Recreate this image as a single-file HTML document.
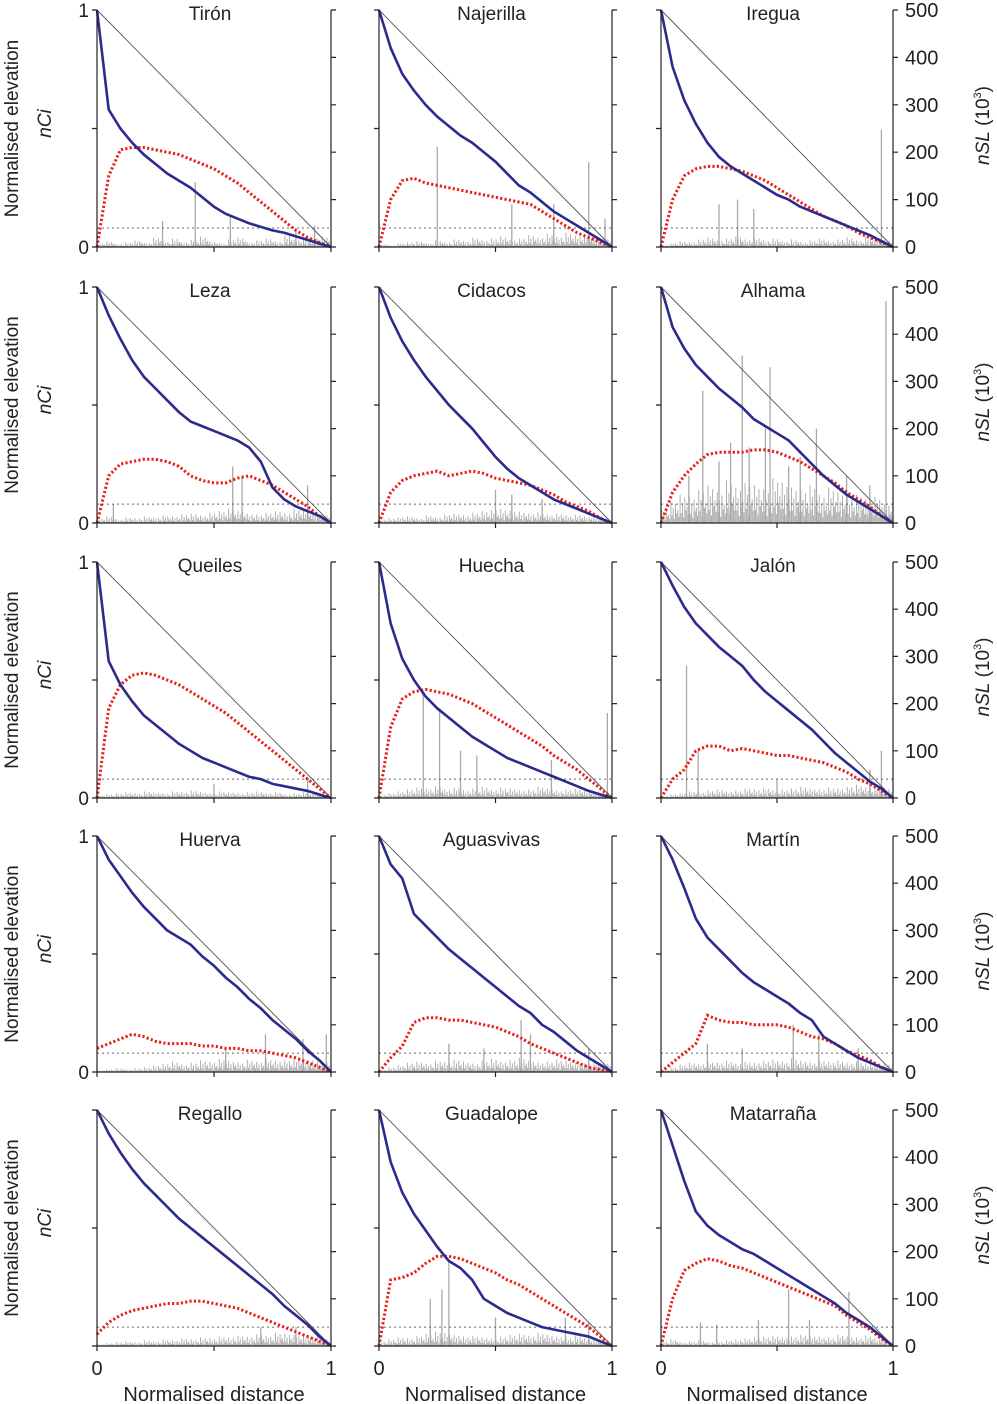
<!DOCTYPE html>
<html><head><meta charset="utf-8"><style>
body{margin:0;background:#fff}
svg{display:block;font-family:"Liberation Sans",Arial,sans-serif}
</style></head><body>
<svg id="chart" width="997" height="1404" viewBox="0 0 997 1404" xmlns="http://www.w3.org/2000/svg"></svg>
<script>
const names = ["Tirón","Najerilla","Iregua","Leza","Cidacos","Alhama","Queiles","Huecha","Jalón","Huerva","Aguasvivas","Martín","Regallo","Guadalope","Matarraña"];
const xGrid = [0,.05,.1,.15,.2,.25,.3,.35,.4,.45,.5,.55,.6,.65,.7,.75,.8,.85,.9,.95,1];
const elevation = [
[1,.58,.5,.44,.39,.35,.31,.28,.25,.21,.17,.14,.12,.10,.085,.07,.06,.045,.03,.015,0],
[1,.84,.73,.66,.6,.55,.51,.47,.44,.40,.36,.31,.26,.23,.19,.15,.12,.09,.06,.03,0],
[1,.76,.62,.52,.44,.38,.34,.31,.28,.25,.22,.2,.17,.15,.13,.11,.09,.07,.05,.025,0],
[1,.88,.78,.69,.62,.57,.52,.47,.43,.41,.39,.37,.35,.32,.26,.15,.1,.07,.05,.03,0],
[1,.87,.77,.69,.62,.56,.5,.45,.4,.34,.28,.23,.19,.16,.13,.1,.08,.06,.04,.02,0],
[1,.83,.74,.67,.62,.57,.53,.49,.44,.41,.38,.35,.3,.25,.2,.16,.12,.09,.06,.03,0],
[1,.58,.48,.41,.35,.31,.27,.23,.2,.17,.15,.13,.11,.09,.08,.06,.05,.04,.03,.015,0],
[1,.74,.59,.5,.43,.38,.34,.3,.26,.23,.2,.17,.15,.13,.11,.09,.07,.05,.03,.015,0],
[1,.9,.81,.74,.69,.64,.6,.56,.5,.45,.41,.37,.33,.29,.24,.19,.15,.11,.07,.04,0],
[1,.9,.83,.76,.7,.65,.6,.57,.54,.49,.45,.4,.36,.31,.27,.22,.18,.14,.09,.05,0],
[1,.88,.82,.67,.62,.57,.52,.48,.44,.4,.36,.32,.28,.25,.2,.17,.13,.09,.06,.03,0],
[1,.9,.78,.65,.57,.52,.47,.42,.38,.35,.32,.29,.25,.22,.15,.12,.09,.06,.04,.02,0],
[1,.9,.82,.75,.69,.64,.59,.54,.5,.46,.42,.38,.34,.3,.26,.22,.17,.13,.09,.04,0],
[1,.78,.65,.56,.49,.42,.36,.33,.28,.2,.17,.14,.12,.1,.08,.07,.06,.05,.04,.02,0],
[1,.85,.7,.57,.51,.47,.44,.41,.39,.36,.33,.3,.27,.24,.21,.18,.14,.11,.08,.04,0]
];
const nCi = [
[0,.30,.41,.42,.42,.41,.40,.39,.37,.35,.33,.30,.27,.23,.19,.15,.11,.07,.04,.02,0],
[0,.20,.28,.29,.27,.26,.25,.24,.23,.22,.21,.2,.19,.18,.15,.12,.09,.06,.04,.02,0],
[0,.2,.3,.33,.34,.34,.33,.32,.3,.28,.25,.22,.19,.16,.13,.11,.09,.06,.04,.02,0],
[0,.2,.25,.26,.27,.27,.26,.24,.2,.18,.17,.17,.19,.2,.18,.16,.13,.1,.07,.03,0],
[0,.13,.18,.2,.21,.22,.2,.21,.22,.21,.19,.18,.17,.16,.14,.12,.09,.07,.05,.02,0],
[0,.13,.2,.25,.29,.3,.3,.3,.31,.31,.3,.28,.26,.23,.2,.17,.13,.1,.07,.03,0],
[0,.38,.48,.52,.53,.52,.5,.48,.45,.42,.39,.36,.32,.28,.24,.2,.16,.12,.08,.04,0],
[0,.3,.42,.45,.46,.45,.44,.42,.4,.37,.34,.31,.28,.25,.22,.18,.15,.12,.08,.04,0],
[0,.08,.12,.2,.22,.22,.2,.21,.2,.19,.18,.18,.17,.16,.15,.13,.11,.08,.06,.03,0],
[.1,.12,.14,.16,.15,.13,.12,.12,.12,.11,.11,.1,.1,.09,.09,.08,.07,.06,.04,.02,0],
[0,.06,.11,.21,.23,.23,.22,.22,.21,.2,.19,.17,.15,.12,.1,.08,.06,.04,.02,.01,0],
[0,.04,.08,.12,.24,.22,.21,.21,.2,.2,.2,.19,.17,.15,.14,.12,.09,.07,.05,.02,0],
[.05,.1,.13,.15,.16,.17,.18,.18,.19,.19,.18,.17,.16,.14,.12,.1,.08,.06,.04,.02,0],
[0,.28,.29,.31,.35,.38,.38,.37,.35,.33,.31,.28,.26,.23,.2,.17,.14,.11,.08,.04,0],
[0,.2,.32,.35,.37,.36,.34,.33,.31,.29,.27,.25,.23,.21,.19,.17,.13,.1,.07,.03,0]
];
const spikeX = [
[.28,.42,.57,.85,.93],
[.25,.57,.75,.9,.97],
[.25,.33,.4,.95],
[.07,.58,.62,.9],
[.5,.57,.7],
[.12,.18,.25,.3,.35,.38,.45,.47,.55,.6,.67,.8,.9,.97],
[.5,.9],
[.19,.26,.35,.42,.74,.98],
[.11,.16,.5,.9,.95],
[.55,.72,.88,.98],
[.3,.45,.61,.65,.9],
[.2,.35,.57,.68,.85],
[.7,.85],
[.22,.27,.3,.5,.8,.9],
[.17,.24,.42,.55,.64,.81]
];
const spikeH = [
[55,137,67,40,45],
[211,90,90,179,60],
[90,100,80,247],
[40,120,100,80],
[70,60,50],
[100,280,130,170,355,160,200,330,120,140,200,100,80,470],
[30,40],
[220,190,100,90,80,180],
[280,100,40,60,100],
[50,80,70,80],
[60,50,110,80,50],
[60,50,100,80,50],
[40,40],
[100,120,180,60,60,50],
[50,45,55,120,55,115]
];
const noise = [
[8,12,6,10,14,9,20,12,18,10,15,22,12,8,16,20,10,14,18,12,25,15,20,18,22],
[6,4,8,10,12,8,14,10,16,12,20,14,18,22,15,18,25,20,28,22,30,24,26,20,18],
[4,8,12,10,16,20,14,18,22,16,20,14,18,12,16,10,14,18,12,16,20,14,22,18,15],
[10,14,8,12,10,14,12,16,14,18,20,16,22,25,30,26,20,18,22,25,20,30,28,22,18],
[8,10,12,14,10,16,12,18,20,16,22,25,28,30,26,24,20,22,18,20,16,18,14,12,10],
[30,45,60,55,70,80,65,90,75,85,80,70,95,85,75,70,80,60,75,65,55,60,50,55,40],
[6,8,10,12,10,14,12,10,14,12,16,12,10,14,12,10,12,14,10,12,8,10,12,10,8],
[8,10,14,18,22,20,25,18,22,16,20,24,18,22,20,16,18,24,20,16,18,20,15,14,12],
[5,8,10,14,12,16,18,14,16,20,18,22,16,18,20,24,20,18,22,20,24,28,22,26,20],
[4,6,8,6,8,10,14,18,22,16,20,25,22,28,24,20,26,22,28,24,26,30,28,25,22],
[6,10,14,20,22,18,24,20,26,22,18,24,28,22,26,30,24,20,22,26,24,20,18,22,20],
[6,10,16,20,18,22,20,24,18,22,20,24,26,22,28,24,20,26,22,24,20,22,18,20,16],
[4,6,8,10,8,12,10,14,12,16,14,18,16,20,18,22,20,25,22,28,26,24,22,20,16],
[10,14,18,16,22,26,30,28,24,20,22,18,16,20,24,26,22,28,24,20,18,22,16,14,12],
[10,14,8,10,12,8,10,12,14,16,18,20,22,18,20,24,22,20,18,24,20,18,22,16,12]
];
const colX = [97,379,661];
const colW = [234,233,232];
const rowY = [10,287,562,836,1110];
const rowH = [237,236,236,236,236];
const nslTicks = [0,100,200,300,400,500];
const dashNSL = 40;
const subShape = [1,.35,.7,.2,.9,.45,.6,.3];

const NS = "http://www.w3.org/2000/svg";
const svg = document.getElementById("chart");
function mk(tag, attrs, parent){
  const e = document.createElementNS(NS, tag);
  for (const k in attrs) e.setAttribute(k, attrs[k]);
  (parent||svg).appendChild(e);
  return e;
}
for (let p = 0; p < 15; p++) {
  const c = p % 3, r = Math.floor(p / 3);
  const x0 = colX[c], w = colW[c], y0 = rowY[r], h = rowH[r];
  const sx = v => x0 + v * w;
  const sy = v => y0 + h - v * h;
  const sn = v => y0 + h - v / 500 * h;
  const g = mk("g", {});
  
  
  const n = noise[p];
  let d = "";
  const m = subShape.length;
  for (let i = 0; i < n.length; i++) {
    for (let k = 0; k < m; k++) {
      const xv = sx((i + (k + 0.5) / m) / n.length);
      d += " M" + xv.toFixed(1) + "," + sn(0) + " V" + sn(n[i] * subShape[k]).toFixed(1);
    }
  }
  const na = mk("path", {d: d, fill: "none", stroke: "#b0b0b0", "stroke-width": 1}, g);
  
  
  for (let i = 0; i < spikeX[p].length; i++) {
    const s = mk("line", {x1: sx(spikeX[p][i]), x2: sx(spikeX[p][i]), y1: sn(0), y2: sn(spikeH[p][i]), stroke: "#a8a8a8", "stroke-width": 1.3}, g);
    
    
  }
  const dl = mk("line", {x1: sx(0), x2: sx(1), y1: sn(dashNSL), y2: sn(dashNSL), stroke: "#666", "stroke-width": 1, "stroke-dasharray": "2,3"}, g);
  
  
  const dg = mk("line", {x1: sx(0), y1: sy(1), x2: sx(1), y2: sy(0), stroke: "#555", "stroke-width": 0.9}, g);
  
  
  const rp = mk("polyline", {points: xGrid.map((x, i) => sx(x) + "," + sy(nCi[p][i])).join(" "), fill: "none", stroke: "#e8201a", "stroke-width": 3, "stroke-dasharray": "2.2,2.2"}, g);
  
  
  const bp = mk("polyline", {points: xGrid.map((x, i) => sx(x) + "," + sy(elevation[p][i])).join(" "), fill: "none", stroke: "#2b2b8e", "stroke-width": 2.6, "stroke-linejoin": "round"}, g);
  
  
  let ax = "M" + x0 + "," + y0 + " V" + (y0 + h) + " H" + (x0 + w) + " M" + (x0 + w) + "," + y0 + " V" + (y0 + h);
  [0, .5, 1].forEach(v => { ax += " M" + (x0 - 5) + "," + sy(v) + " H" + x0; ax += " M" + sx(v) + "," + (y0 + h) + " V" + (y0 + h + 5); });
  nslTicks.forEach(v => { ax += " M" + (x0 + w) + "," + sn(v) + " H" + (x0 + w + 5); });
  const axp = mk("path", {d: ax, fill: "none", stroke: "#222", "stroke-width": 1.2}, g);
  
  
  const t = mk("text", {x: x0 + w / 2 - 4, y: y0 + 10, "text-anchor": "middle", "font-size": 19, fill: "#222"}, g);
  t.textContent = names[p];
  
  
  if (c === 0 && r < 4) {
    [[1, "1"], [0, "0"]].forEach(([v, s]) => {
      const l = mk("text", {x: x0 - 8, y: sy(v) + 7, "text-anchor": "end", "font-size": 19, fill: "#222"}, g);
      l.textContent = s;
      
      
    });
  }
  if (c === 2) {
    nslTicks.forEach(v => {
      const l = mk("text", {x: x0 + w + 12, y: sn(v) + 7, "font-size": 20, fill: "#222"}, g);
      l.textContent = v;
      
      
    });
  }
  if (r === 4) {
    [[0, "0"], [1, "1"]].forEach(([v, s]) => {
      const l = mk("text", {x: sx(v), y: y0 + h + 29, "text-anchor": "middle", "font-size": 20, fill: "#222"}, g);
      l.textContent = s;
      
      
    });
    const xl = mk("text", {x: x0 + w / 2, y: y0 + h + 55, "text-anchor": "middle", "font-size": 20, fill: "#222"}, g);
    xl.textContent = "Normalised distance";
    
    
  }
}
for (let r = 0; r < 5; r++) {
  const cy = rowY[r] + rowH[r] / 2;
  const a = mk("text", {transform: "translate(18," + cy + ") rotate(-90)", "text-anchor": "middle", "font-size": 19, fill: "#222"});
  a.textContent = "Normalised elevation";
  
  
  const b = mk("text", {transform: "translate(51," + (cy - 5) + ") rotate(-90)", "text-anchor": "middle", "font-size": 19, "font-style": "italic", fill: "#222"});
  b.textContent = "nCi";
  
  
  const c = mk("text", {transform: "translate(989," + (cy - 3) + ") rotate(-90)", "text-anchor": "middle", "font-size": 19, fill: "#222"});
  c.innerHTML = '<tspan font-style="italic">nSL</tspan> (10<tspan font-size="11" dy="-8">3</tspan><tspan dy="8">)</tspan>';
  
  
}
</script>
</body></html>
